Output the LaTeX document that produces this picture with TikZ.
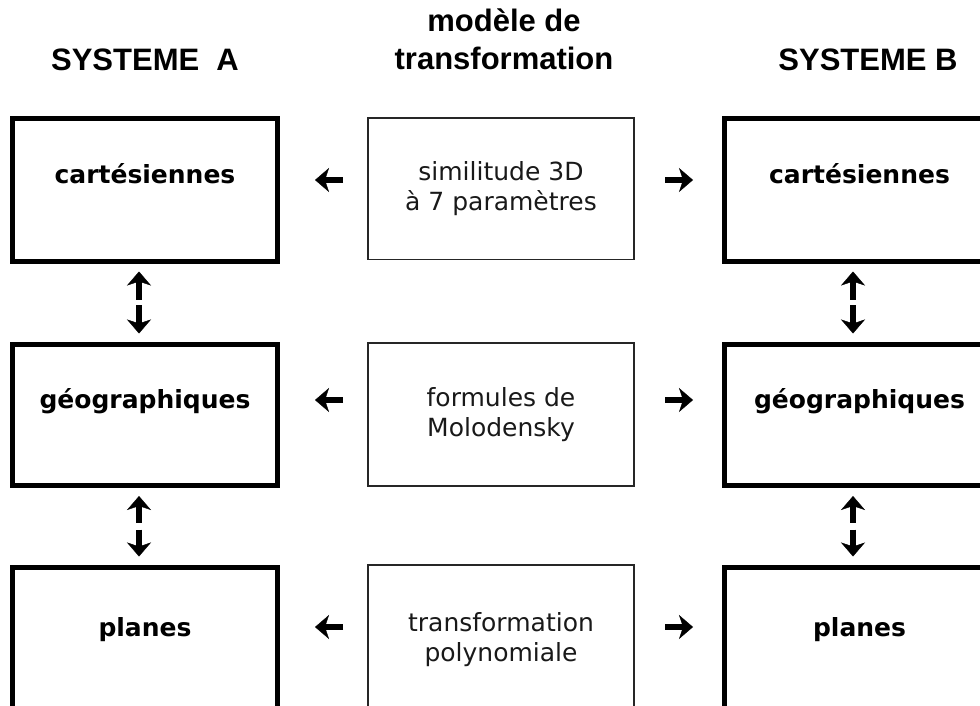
\documentclass[tikz,border=0pt]{standalone}
\usepackage{fontspec}
\setmainfont{DejaVu Sans}
\newfontfamily\hdrfont{Liberation Sans}
\usetikzlibrary{arrows.meta}
\begin{document}
\begin{tikzpicture}[x=1pt,y=-1pt,
  sysbox/.style={draw, line width=5pt, rectangle, inner sep=0pt, outer sep=0pt,
    anchor=north west, minimum width=265pt,
    font=\fontsize{25}{30}\selectfont\bfseries, text height=18pt, text depth=31pt},
  modbox/.style={draw=black!85, line width=1.6pt, rectangle, inner sep=0pt, outer sep=0pt,
    anchor=north west, minimum width=266pt, align=center, text=black!90,
    font=\fontsize{25}{30}\selectfont},
  hdr/.style={font=\hdrfont\bfseries\fontsize{31}{38}\selectfont, align=center, anchor=base},
  arr/.style={line width=5.5pt, -{Stealth[length=14pt,width=24pt,inset=4pt,line width=0.4pt]}},
]
\useasboundingbox (0,0) rectangle (980,706);
\fill[white] (0,0) rectangle (980,706);
\clip (0,0) rectangle (980,706);

% headers
\node[hdr] (hA) at (145,71) {SYSTEME\ \ A};
\node[hdr] (hM) at (504,70) {modèle de\\transformation};
\node[hdr] (hB) at (868,71) {SYSTEME B};

% system A
\node[sysbox, minimum height=142pt] (A1) at (12.5,119) {cartésiennes};
\node[sysbox, minimum height=141pt] (A2) at (12.5,344.5) {géographiques};
\node[sysbox, minimum height=150pt] (A3) at (12.5,567.5) {planes};
% system B
\node[sysbox, minimum width=270pt, minimum height=142pt] (B1) at (724.5,119) {cartésiennes};
\node[sysbox, minimum width=270pt, minimum height=141pt] (B2) at (724.5,344.5) {géographiques};
\node[sysbox, minimum width=270pt, minimum height=150pt] (B3) at (724.5,567.5) {planes};
% models
\node[modbox, minimum height=141.5pt] (M1) at (368,118) {similitude 3D\\à 7 paramètres};
\node[modbox, minimum height=143pt] (M2) at (368,343) {formules de\\Molodensky};
\node[modbox, minimum height=150pt] (M3) at (368,565) {transformation\\polynomiale};

% horizontal arrows
\coordinate (r1) at (0,180);
\coordinate (r2) at (0,400);
\coordinate (r3) at (0,627);
\foreach \i in {1,2,3}{
  \draw[arr, shorten <=25pt, shorten >=37.5pt] (M\i.west |- r\i) -- (A\i.east |- r\i);
  \draw[arr, shorten <=31pt, shorten >=31.5pt] (M\i.east |- r\i) -- (B\i.west |- r\i);
}

% vertical arrows
\foreach \u/\l in {1/2,2/3}{
  \draw[arr, shorten <=45pt, shorten >=10.5pt] ([xshift=-6pt]A\l.north) -- ([xshift=-6pt]A\u.south);
  \draw[arr, shorten <=44pt, shorten >=11pt] ([xshift=-6pt]A\u.south) -- ([xshift=-6pt]A\l.north);
  \draw[arr, shorten <=45pt, shorten >=10.5pt] ([xshift=-6.5pt]B\l.north) -- ([xshift=-6.5pt]B\u.south);
  \draw[arr, shorten <=44pt, shorten >=11pt] ([xshift=-6.5pt]B\u.south) -- ([xshift=-6.5pt]B\l.north);
}
\end{tikzpicture}
\end{document}
